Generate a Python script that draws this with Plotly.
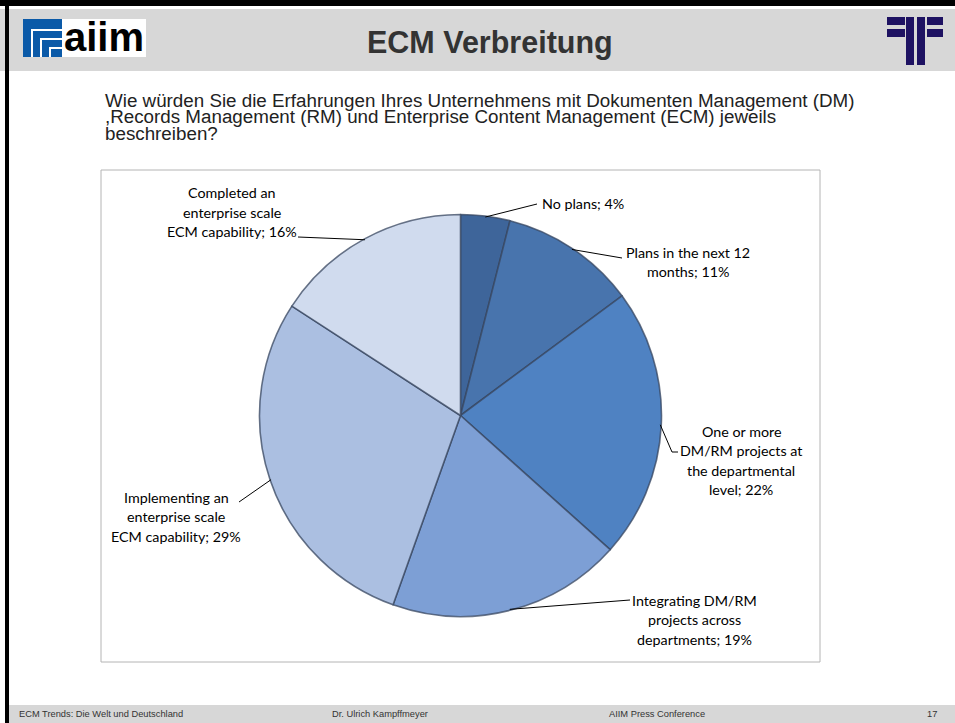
import math
import plotly.graph_objects as go

# ---------------- data ----------------
categories = [
    "No plans",
    "Plans in the next 12 months",
    "One or more DM/RM projects at the departmental level",
    "Integrating DM/RM projects across departments",
    "Implementing an enterprise scale ECM capability",
    "Completed an enterprise scale ECM capability",
]
values = [4, 11, 22, 19, 29, 16]
slice_colors = ["#3e659a", "#4874ad", "#4f82c2", "#7d9fd5", "#abbfe1", "#d0dbee"]

title_text = "ECM Verbreitung"
question_lines = [
    "Wie würden Sie die Erfahrungen Ihres Unternehmens mit Dokumenten Management (DM)",
    ",Records Management (RM) und Enterprise Content Management (ECM) jeweils",
    "beschreiben?",
]
footer_texts = ["ECM Trends: Die Welt und Deutschland", "Dr. Ulrich Kampffmeyer",
                "AIIM Press Conference", "17"]

# label wrapping (layout) - percentages are appended from values
label_wrap = [
    ["No plans;"],
    ["Plans in the next 12", "months;"],
    ["One or more", "DM/RM projects at", "the departmental", "level;"],
    ["Integrating DM/RM", "projects across", "departments;"],
    ["Implementing an", "enterprise scale", "ECM capability;"],
    ["Completed an", "enterprise scale", "ECM capability;"],
]

# ---------------- layout helpers ----------------
W, H = 955, 723
def px(x):
    return x / W
def py(y):
    return 1 - y / H

CX, CY, R = 460.5, 415.5, 201

fig = go.Figure()
fig.add_trace(go.Pie(
    values=values,
    labels=categories,
    sort=False,
    direction="clockwise",
    rotation=0,
    textinfo="none",
    hoverinfo="label+percent",
    marker=dict(colors=slice_colors, line=dict(color="rgba(55,70,95,0.75)", width=1.6)),
    domain=dict(x=[px(CX - R), px(CX + R)], y=[py(CY + R), py(CY - R)]),
    showlegend=False,
))

shapes = []
annotations = []

# slide frame / bands
shapes.append(dict(type="rect", xref="paper", yref="paper", x0=px(0), x1=px(W), y0=py(9), y1=py(71),
                   fillcolor="#d7d7d7", line=dict(width=0), layer="below"))
shapes.append(dict(type="rect", xref="paper", yref="paper", x0=px(9), x1=px(W), y0=py(705), y1=py(H),
                   fillcolor="#d7d7d7", line=dict(width=0), layer="below"))
shapes.append(dict(type="rect", xref="paper", yref="paper", x0=px(0), x1=px(W), y0=py(0), y1=py(6),
                   fillcolor="#000000", line=dict(width=0)))
shapes.append(dict(type="rect", xref="paper", yref="paper", x0=px(5), x1=px(9), y0=py(0), y1=py(H),
                   fillcolor="#000000", line=dict(width=0)))
# chart box
shapes.append(dict(type="rect", xref="paper", yref="paper", x0=px(101), x1=px(820), y0=py(662), y1=py(170),
                   fillcolor="rgba(0,0,0,0)", line=dict(color="#b4b4b4", width=1)))

# aiim logo
shapes.append(dict(type="rect", xref="paper", yref="paper", x0=px(23), x1=px(146), y0=py(57), y1=py(19),
                   fillcolor="#ffffff", line=dict(width=0)))
shapes.append(dict(type="rect", xref="paper", yref="paper", x0=px(23), x1=px(62), y0=py(57), y1=py(19),
                   fillcolor="#0b5aa8", line=dict(width=0)))
for k in range(3):
    x0 = 32 + k * 9
    y0 = 30 + k * 9
    shapes.append(dict(type="path", xref="paper", yref="paper",
                       path=f"M {px(x0)},{py(57)} L {px(x0)},{py(y0)} L {px(62)},{py(y0)}",
                       line=dict(color="#ffffff", width=2)))
annotations.append(dict(text="<b>aiim</b>", x=px(104), y=py(37), xref="paper", yref="paper",
                        showarrow=False, xanchor="center", yanchor="middle",
                        font=dict(family="Liberation Sans, Arial", size=40, color="#000000")))

# right logo
navy = "#1e1262"
for (x0, x1, y0, y1) in [(887, 905, 17, 25), (887, 905, 29, 37), (927, 943, 17, 25), (927, 943, 29, 37),
                         (906, 914, 17, 65), (917, 925, 17, 65)]:
    shapes.append(dict(type="rect", xref="paper", yref="paper", x0=px(x0), x1=px(x1), y0=py(y1), y1=py(y0),
                       fillcolor=navy, line=dict(width=0)))

# title
annotations.append(dict(text=f"<b>{title_text}</b>", x=px(490), y=py(42), xref="paper", yref="paper",
                        showarrow=False, xanchor="center", yanchor="middle",
                        font=dict(family="Liberation Sans, Arial", size=30.5, color="#333333")))

# question
for i, line in enumerate(question_lines):
    annotations.append(dict(text=line, x=px(103), y=py(101 + 16 * i), xref="paper", yref="paper",
                            showarrow=False, xanchor="left", yanchor="middle",
                            font=dict(family="Liberation Sans, Arial", size=18.8, color="#222222")))

# footer
footer_x = [17, 330, 607, 925]
for t, x in zip(footer_texts, footer_x):
    annotations.append(dict(text=t, x=px(x), y=py(714), xref="paper", yref="paper",
                            showarrow=False, xanchor="left", yanchor="middle",
                            font=dict(family="Liberation Sans, Arial", size=9.3, color="#333333")))

# slice labels with leader lines (anchor computed from the data)
label_pos = [  # (center x or left x, first-line y, xanchor)
    (540, 203, "left"),
    (688, 252, "center"),
    (741, 431, "center"),
    (694, 600, "center"),
    (176, 497, "center"),
    (232, 193, "center"),
]
leader_end = [
    [(537, 204)],
    [(622, 258)],
    [(672, 452), (678, 452)],
    [(630, 600)],
    [(239, 502)],
    [(298, 237)],
]
total = sum(values)
cum = 0
for i, v in enumerate(values):
    mid = (cum + v / 2) / total
    cum += v
    ang = 2 * math.pi * mid
    ax = CX + (R - 1) * math.sin(ang)
    ay = CY - (R - 1) * math.cos(ang)
    pts = [(ax, ay)] + leader_end[i]
    path = "M " + " L ".join(f"{px(x)},{py(y)}" for x, y in pts)
    shapes.append(dict(type="path", xref="paper", yref="paper", path=path,
                       line=dict(color="#000000", width=1)))
    lines = list(label_wrap[i])
    lines[-1] = f"{lines[-1]} {v}%"
    lx, ly, xa = label_pos[i]
    for j, t in enumerate(lines):
        annotations.append(dict(text=t, x=px(lx), y=py(ly + 19.5 * j), xref="paper", yref="paper",
                                showarrow=False, xanchor=xa, yanchor="middle",
                                font=dict(family="Lato, Carlito, Calibri, sans-serif", size=14.3, color="#000000")))

fig.update_layout(
    width=W, height=H,
    margin=dict(l=0, r=0, t=0, b=0),
    paper_bgcolor="#ffffff",
    plot_bgcolor="#ffffff",
    shapes=shapes,
    annotations=annotations,
)

fig.write_html("out.html", config={"displayModeBar": False},
               post_script="document.body.style.margin='0';document.body.style.overflow='hidden';")
